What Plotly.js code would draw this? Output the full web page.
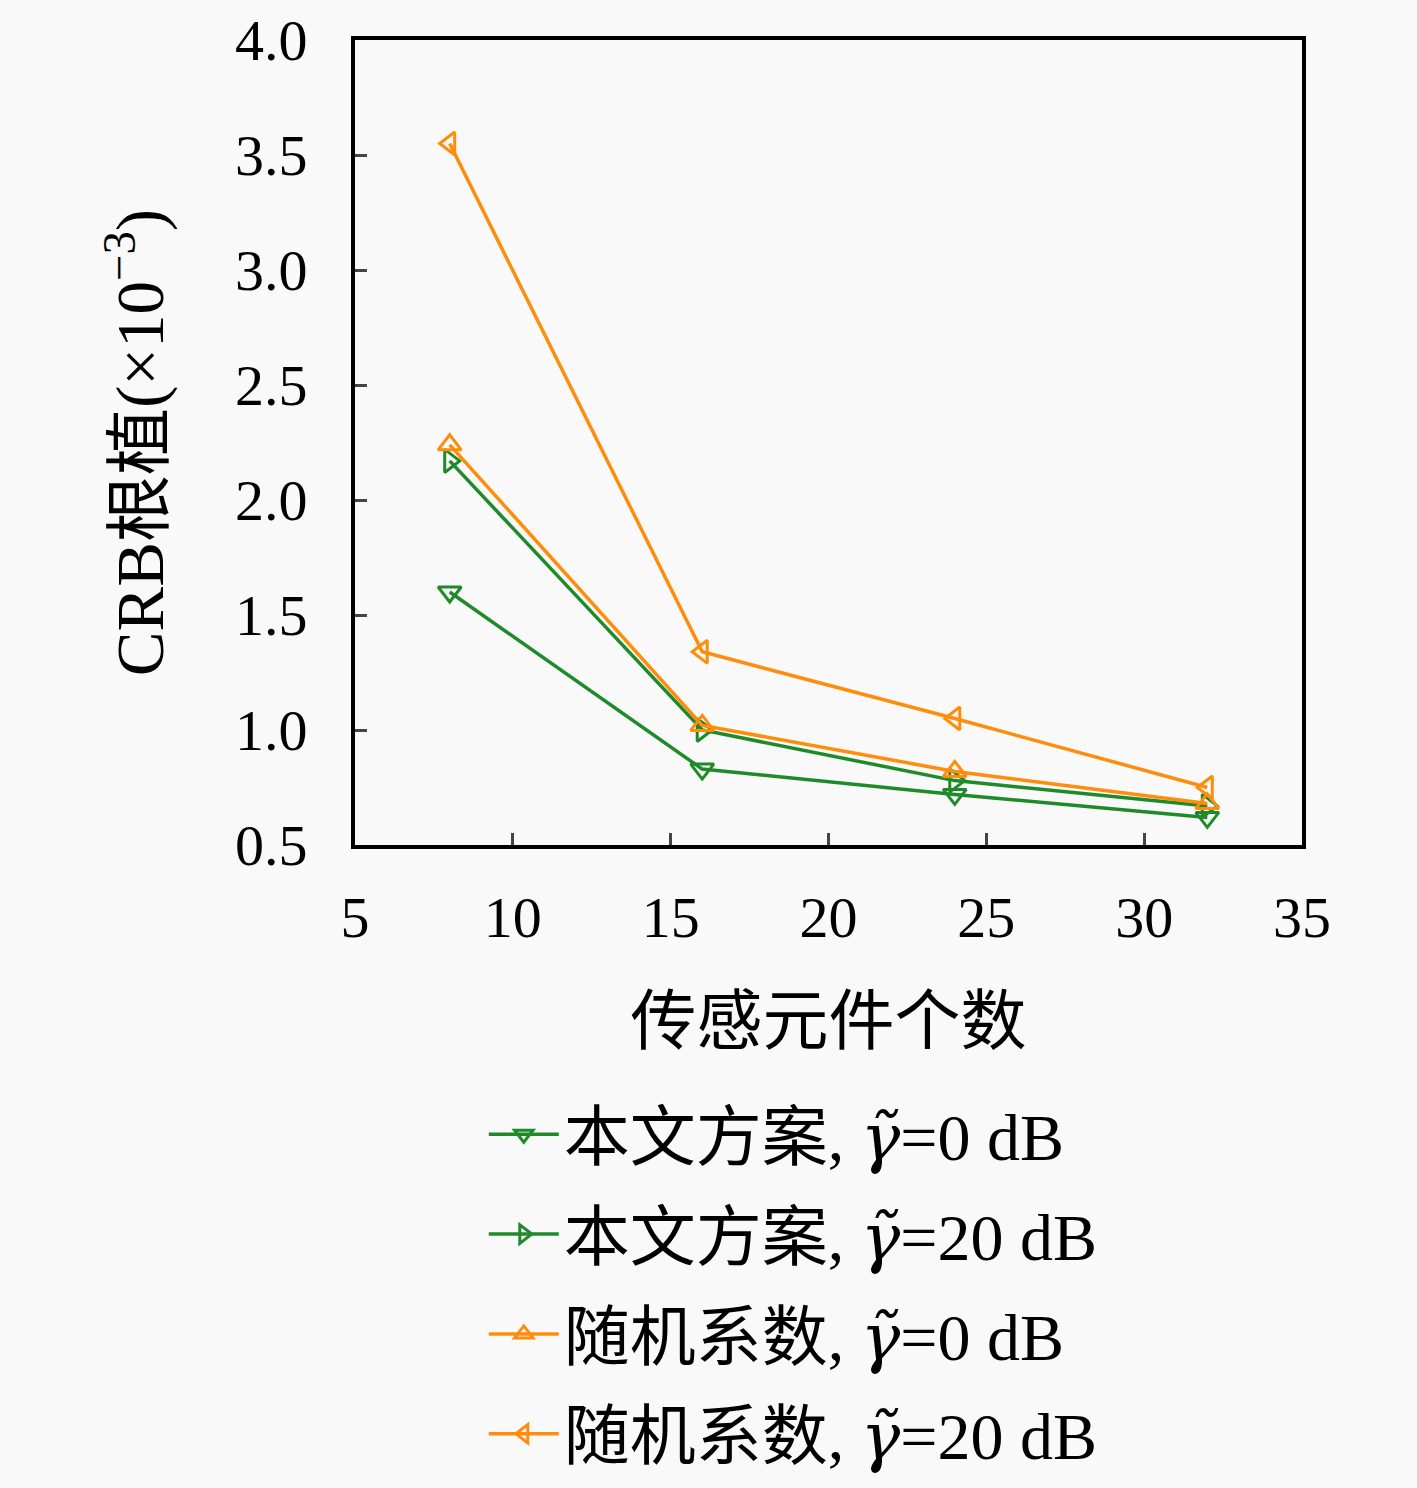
<!DOCTYPE html>
<html>
<head>
<meta charset="utf-8">
<script src="https://cdn.plot.ly/plotly-3.0.1.min.js"></script>
<style>
  body { margin: 0; background: #f9f9f9; }
  #chart { width: 1417px; height: 1488px; }
</style>
</head>
<body>
<div id="chart"></div>
<script>
  // number of sensor elements
  var elements = [8, 16, 24, 32];

  // root CRB values (x 10^-3)
  var oursLow = [1.60, 0.83, 0.72, 0.62];    // 本文方案, 0 dB
  var oursHigh = [2.17, 1.00, 0.78, 0.67];   // 本文方案, 20 dB
  var randLow = [2.24, 1.02, 0.82, 0.68];    // 随机系数, 0 dB
  var randHigh = [3.55, 1.34, 1.05, 0.75];   // 随机系数, 20 dB

  var yTicks = [0.5, 1.0, 1.5, 2.0, 2.5, 3.0, 3.5, 4.0];
  var yTickText = ["0.5", "1.0", "1.5", "2.0", "2.5", "3.0", "3.5", "4.0"];
  var xTicks = [5, 10, 15, 20, 25, 30, 35];

  var gam = "<span style='font-family:DejaVu Serif;font-style:italic'>γ̃</span>";
  var names = [
    "本文方案, " + gam + "=0 dB",
    "本文方案, " + gam + "=20 dB",
    "随机系数, " + gam + "=0 dB",
    "随机系数, " + gam + "=20 dB"
  ];

  var green = "#1f8a2a";
  var orange = "#ff8c0a";
  var serif = "'Liberation Serif', 'DejaVu Serif', 'Noto Sans CJK SC', serif";

  function series(y, name, color, symbol, group) {
    return {
      x: elements,
      y: y,
      name: name,
      legendgroup: group,
      type: "scatter",
      mode: "lines+markers",
      line: { color: color, width: 3.5 },
      marker: { symbol: symbol, size: 20, color: color, line: { color: color, width: 3 } }
    };
  }

  var data = [
    series(oursLow, names[0], green, "triangle-down-open", "a"),
    series(oursHigh, names[1], green, "triangle-right-open", "b"),
    series(randLow, names[2], orange, "triangle-up-open", "c"),
    series(randHigh, names[3], orange, "triangle-left-open", "d")
  ];

  var layout = {
    width: 1417,
    height: 1488,
    paper_bgcolor: "#f9f9f9",
    plot_bgcolor: "#f9f9f9",
    margin: { l: 355, r: 115, t: 40, b: 643, autoexpand: false },
    font: { family: serif, color: "#000", size: 58 },
    showlegend: true,
    xaxis: {
      range: [5, 35],
      tickvals: xTicks,
      ticks: "inside",
      ticklen: 12,
      tickwidth: 3,
      ticklabelstandoff: 18,
      showline: true,
      linewidth: 4,
      linecolor: "#000",
      mirror: true,
      showgrid: false,
      zeroline: false,
      tickfont: { size: 58, family: serif },
      title: { text: "传感元件个数", font: { size: 66, family: serif }, standoff: 50 }
    },
    yaxis: {
      range: [0.5, 4.0],
      tickvals: yTicks,
      ticktext: yTickText,
      ticks: "inside",
      ticklen: 12,
      tickwidth: 3,
      ticklabelstandoff: 32,
      showline: true,
      linewidth: 4,
      linecolor: "#000",
      mirror: true,
      showgrid: false,
      zeroline: false,
      tickfont: { size: 58, family: serif },
      title: { text: "CRB根植(×10<sup>−3</sup>)", font: { size: 67, family: serif }, standoff: 50 }
    },
    legend: {
      x: 0.136,
      y: -0.298,
      xanchor: "left",
      yanchor: "top",
      bgcolor: "rgba(0,0,0,0)",
      borderwidth: 0,
      itemwidth: 70,
      tracegroupgap: 11,
      font: { size: 66, family: serif }
    }
  };

  Plotly.newPlot("chart", data, layout, { displayModeBar: false });
</script>
</body>
</html>
